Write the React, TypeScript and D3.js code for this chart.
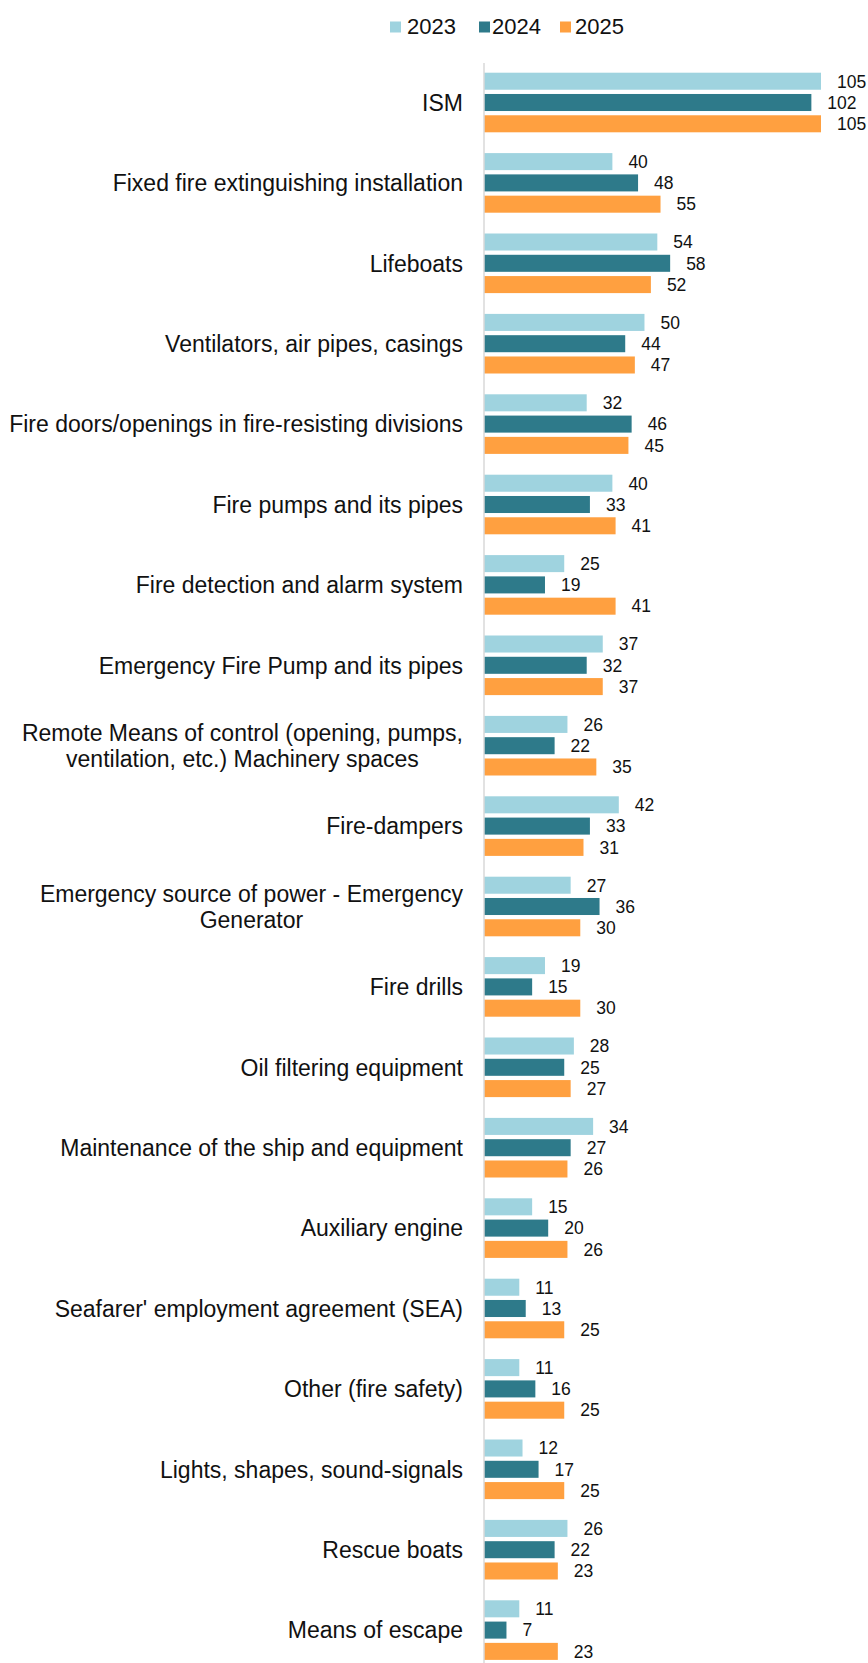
import React from "react";
import * as d3 from "d3";

const categories: string[] = [
  "ISM",
  "Fixed fire extinguishing installation",
  "Lifeboats",
  "Ventilators, air pipes, casings",
  "Fire doors/openings in fire-resisting divisions",
  "Fire pumps and its pipes",
  "Fire detection and alarm system",
  "Emergency Fire Pump and its pipes",
  "Remote Means of control (opening, pumps,\nventilation, etc.) Machinery spaces",
  "Fire-dampers",
  "Emergency source of power - Emergency\nGenerator",
  "Fire drills",
  "Oil filtering equipment",
  "Maintenance of the ship and equipment",
  "Auxiliary engine",
  "Seafarer' employment agreement (SEA)",
  "Other (fire safety)",
  "Lights, shapes, sound-signals",
  "Rescue boats",
  "Means of escape",
];

const years: string[] = ["2023", "2024", "2025"];

const values2023: number[] = [105, 40, 54, 50, 32, 40, 25, 37, 26, 42, 27, 19, 28, 34, 15, 11, 11, 12, 26, 11];
const values2024: number[] = [102, 48, 58, 44, 46, 33, 19, 32, 22, 33, 36, 15, 25, 27, 20, 13, 16, 17, 22, 7];
const values2025: number[] = [105, 55, 52, 47, 45, 41, 41, 37, 35, 31, 30, 30, 27, 26, 26, 25, 25, 25, 23, 23];

const seriesValues: number[][] = [values2023, values2024, values2025];
const colors: string[] = ["#9fd3df", "#2e7a8a", "#ffa040"];

const W = 868;
const H = 1663;
const FONT = "'Liberation Sans', Arial, Helvetica, sans-serif";

export default function App() {
  const axisX = 484;
  const x = d3.scaleLinear().domain([0, 105]).range([axisX, 821]);
  const y = d3.scaleBand<string>().domain(categories).range([62.3, 1670.3]).padding(0);
  const groupH = 59.6;
  const inner = d3.scaleBand<string>().domain(years).range([0, groupH]).paddingInner(0.2).paddingOuter(0);
  const offset = (y.bandwidth() - groupH) / 2;

  const legendItems = [
    { sq: 390, tx: 407 },
    { sq: 479, tx: 492 },
    { sq: 560, tx: 575 },
  ];

  return (
    <svg width={W} height={H} style={{ position: "absolute", left: 0, top: 0, background: "#fff" }} fontFamily={FONT}>
      <rect x={0} y={0} width={W} height={H} fill="#fff" />
      {years.map((yr, i) => (
        <g key={yr}>
          <rect x={legendItems[i].sq} y={21.5} width={11} height={11} fill={colors[i]} />
          <text x={legendItems[i].tx} y={34} fontSize={22} fill="#111">{yr}</text>
        </g>
      ))}
      {categories.map((c, ci) => {
        const g0 = (y(c) as number) + offset;
        return (
          <g key={c}>
            {years.map((yr, si) => {
              const v = seriesValues[si][ci];
              const by = g0 + (inner(yr) as number);
              return (
                <g key={yr}>
                  <rect x={x(0)} y={by} width={x(v) - x(0)} height={inner.bandwidth()} fill={colors[si]} />
                  <text x={x(v) + 16} y={by + inner.bandwidth() / 2} dy="0.36em" fontSize={17.5} fill="#111">{v}</text>
                </g>
              );
            })}
          </g>
        );
      })}
      {categories.map((c) => {
        const lines = c.split("\n");
        const cy = (y(c) as number) + y.bandwidth() / 2;
        const lh = 26.5;
        if (lines.length === 1) {
          return (
            <text key={c} x={463} y={cy} dy="0.36em" fontSize={23} textAnchor="end" fill="#111">{c}</text>
          );
        }
        return <MultiLine key={c} lines={lines} cy={cy} lh={lh} right={463} />;
      })}
      <line x1={axisX} x2={axisX} y1={63} y2={H} stroke="#d9d9d9" strokeWidth={1.5} />
    </svg>
  );
}

function MultiLine({ lines, cy, lh, right }: { lines: string[]; cy: number; lh: number; right: number }) {
  const ref = React.useRef<SVGGElement>(null);
  const [cx, setCx] = React.useState<number | null>(null);
  React.useLayoutEffect(() => {
    if (!ref.current) return;
    const texts = ref.current.querySelectorAll("text");
    let maxW = 0;
    texts.forEach((t) => { maxW = Math.max(maxW, (t as SVGTextElement).getComputedTextLength()); });
    setCx(right - maxW / 2);
  }, [right]);
  const top = cy - ((lines.length - 1) * lh) / 2;
  return (
    <g ref={ref} style={{ visibility: cx === null ? "hidden" : "visible" }}>
      {lines.map((l, i) => (
        <text key={i} x={cx ?? right} y={top + i * lh} dy="0.36em" fontSize={23} textAnchor="middle" fill="#111">{l}</text>
      ))}
    </g>
  );
}
